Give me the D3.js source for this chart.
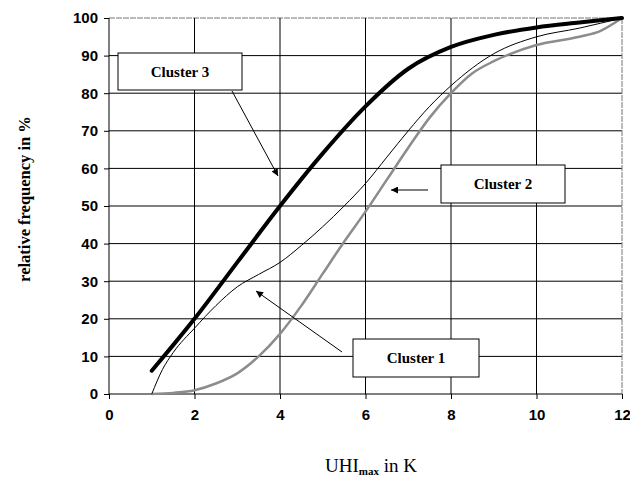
<!DOCTYPE html>
<html>
<head>
<meta charset="utf-8">
<script src="https://cdn.jsdelivr.net/npm/d3@7"></script>
<style>
  body { margin: 0; background: #fff; }
  .tick text { font-family: "Liberation Sans", Arial, sans-serif; font-weight: bold; font-size: 15px; fill: #000; }
  .ttl { font-family: "Liberation Serif", "Times New Roman", serif; font-weight: bold; fill: #000; }
</style>
</head>
<body>
<div id="chart"></div>
<script>
// data
var xTicks = [0, 2, 4, 6, 8, 10, 12];
var yTicks = [0, 10, 20, 30, 40, 50, 60, 70, 80, 90, 100];

// Cluster 1 (grey)
var c1x = [1, 1.5, 2, 2.5, 3, 3.5, 4, 4.5, 5, 5.5, 6, 6.5, 7, 7.5, 8, 8.5, 9, 10, 11, 11.5, 12];
var c1y = [0, 0.3, 1, 2.8, 5.5, 10, 16, 23.5, 32, 40.5, 48.5, 57, 65.5, 73.5, 80, 85.3, 88.5, 92.8, 95, 96.6, 100];

// Cluster 2 (thin black)
var c2x = [1, 1.25, 1.5, 2, 2.5, 3, 3.5, 4, 4.5, 5, 5.5, 6, 6.5, 7, 7.5, 8, 9, 10, 11, 12];
var c2y = [0, 6.5, 11, 17.5, 23.5, 28.5, 31.8, 35, 39.5, 44.5, 50, 56, 63, 70, 76.5, 82, 90.5, 95, 97.3, 100];

// Cluster 3 (thick black)
var c3x = [1, 1.5, 2, 3, 4, 5, 6, 7, 8, 9, 10, 11, 12];
var c3y = [6.2, 13, 20, 35, 50, 64, 76.5, 86.5, 92.3, 95.5, 97.5, 98.8, 100];

var svgWidth = 630, svgHeight = 479;
var margin = { top: 18, right: 8, bottom: 85, left: 109 };
var width = svgWidth - margin.left - margin.right;
var height = svgHeight - margin.top - margin.bottom;

var svg = d3.select("#chart").append("svg")
  .attr("width", svgWidth)
  .attr("height", svgHeight);

var chartGroup = svg.append("g")
  .attr("transform", `translate(${margin.left}, ${margin.top})`);

var x = d3.scaleLinear().domain([0, 12]).range([0, width]);
var y = d3.scaleLinear().domain([0, 100]).range([height, 0]);

// horizontal grid
chartGroup.append("g")
  .selectAll("line")
  .data(yTicks)
  .enter()
  .append("line")
  .attr("x1", 0)
  .attr("x2", width)
  .attr("y1", d => y(d))
  .attr("y2", d => y(d))
  .attr("stroke", d => d === 100 ? "#777" : "#000")
  .attr("stroke-dasharray", d => d === 100 ? "6,1" : null)
  .attr("stroke-width", 1);

// vertical grid
chartGroup.append("g")
  .selectAll("line")
  .data(xTicks)
  .enter()
  .append("line")
  .attr("x1", d => x(d))
  .attr("x2", d => x(d))
  .attr("y1", 0)
  .attr("y2", height)
  .attr("stroke", d => d === 12 ? "#777" : "#000")
  .attr("stroke-dasharray", d => d === 12 ? "6,1" : null)
  .attr("stroke-width", 1);

// axes
var xAxis = d3.axisBottom(x).tickValues(xTicks).tickSize(5).tickPadding(10);
var yAxis = d3.axisLeft(y).tickValues(yTicks).tickSize(5).tickPadding(6);

chartGroup.append("g")
  .attr("transform", `translate(0, ${height})`)
  .call(xAxis)
  .call(g => g.select(".domain").remove());

chartGroup.append("g")
  .call(yAxis)
  .call(g => g.select(".domain").remove());

// curves
var line = d3.line()
  .x(d => x(d[0]))
  .y(d => y(d[1]))
  .curve(d3.curveMonotoneX);

function pairs(xs, ys) {
  return xs.map((v, i) => [v, ys[i]]);
}

chartGroup.append("path")
  .datum(pairs(c1x, c1y))
  .attr("d", line)
  .attr("fill", "none")
  .attr("stroke", "#8c8c8c")
  .attr("stroke-width", 2.5);

chartGroup.append("path")
  .datum(pairs(c2x, c2y))
  .attr("d", line)
  .attr("fill", "none")
  .attr("stroke", "#000")
  .attr("stroke-width", 1);

chartGroup.append("path")
  .datum(pairs(c3x, c3y))
  .attr("d", line)
  .attr("fill", "none")
  .attr("stroke", "#000")
  .attr("stroke-width", 4)
  .attr("stroke-linecap", "round");

// arrow marker
svg.append("defs").append("marker")
  .attr("id", "arr")
  .attr("viewBox", "0 0 10 10")
  .attr("refX", 10)
  .attr("refY", 5)
  .attr("markerWidth", 10)
  .attr("markerHeight", 7)
  .attr("markerUnits", "userSpaceOnUse")
  .attr("orient", "auto")
  .append("path")
  .attr("d", "M0,0 L10,5 L0,10 z")
  .attr("fill", "#000");

// callout boxes (page coordinates)
var boxes = [
  { label: "Cluster 3", x0: 118, y0: 53, w: 124, h: 37, ax1: 232, ay1: 91, ax2: 278, ay2: 176 },
  { label: "Cluster 2", x0: 441, y0: 165, w: 124, h: 38, ax1: 428, ay1: 190, ax2: 391, ay2: 190 },
  { label: "Cluster 1", x0: 353, y0: 339, w: 126, h: 38, ax1: 342, ay1: 352, ax2: 256, ay2: 291 }
];

var boxG = svg.append("g");
boxes.forEach(function (b) {
  boxG.append("line")
    .attr("x1", b.ax1).attr("y1", b.ay1)
    .attr("x2", b.ax2).attr("y2", b.ay2)
    .attr("stroke", "#000")
    .attr("stroke-width", 1)
    .attr("marker-end", "url(#arr)");
  boxG.append("rect")
    .attr("x", b.x0).attr("y", b.y0)
    .attr("width", b.w).attr("height", b.h)
    .attr("fill", "#fff")
    .attr("stroke", "#000")
    .attr("stroke-width", 1);
  boxG.append("text")
    .attr("class", "ttl")
    .attr("x", b.x0 + b.w / 2)
    .attr("y", b.y0 + b.h / 2 + 5)
    .attr("text-anchor", "middle")
    .style("font-size", "15px")
    .text(b.label);
});

// axis titles
svg.append("text")
  .attr("class", "ttl")
  .attr("transform", "translate(30, 199) rotate(-90)")
  .attr("text-anchor", "middle")
  .style("font-size", "16.5px")
  .text("relative frequency in %");

var xt = svg.append("text")
  .attr("class", "ttl")
  .attr("x", 371)
  .attr("y", 472)
  .attr("text-anchor", "middle")
  .style("font-size", "19px")
  .style("font-weight", "normal");
xt.append("tspan").text("UHI");
xt.append("tspan").attr("dy", 3).style("font-size", "11px").style("font-weight", "bold").text("max");
xt.append("tspan").attr("dy", -3).text(" in K");
</script>
</body>
</html>
